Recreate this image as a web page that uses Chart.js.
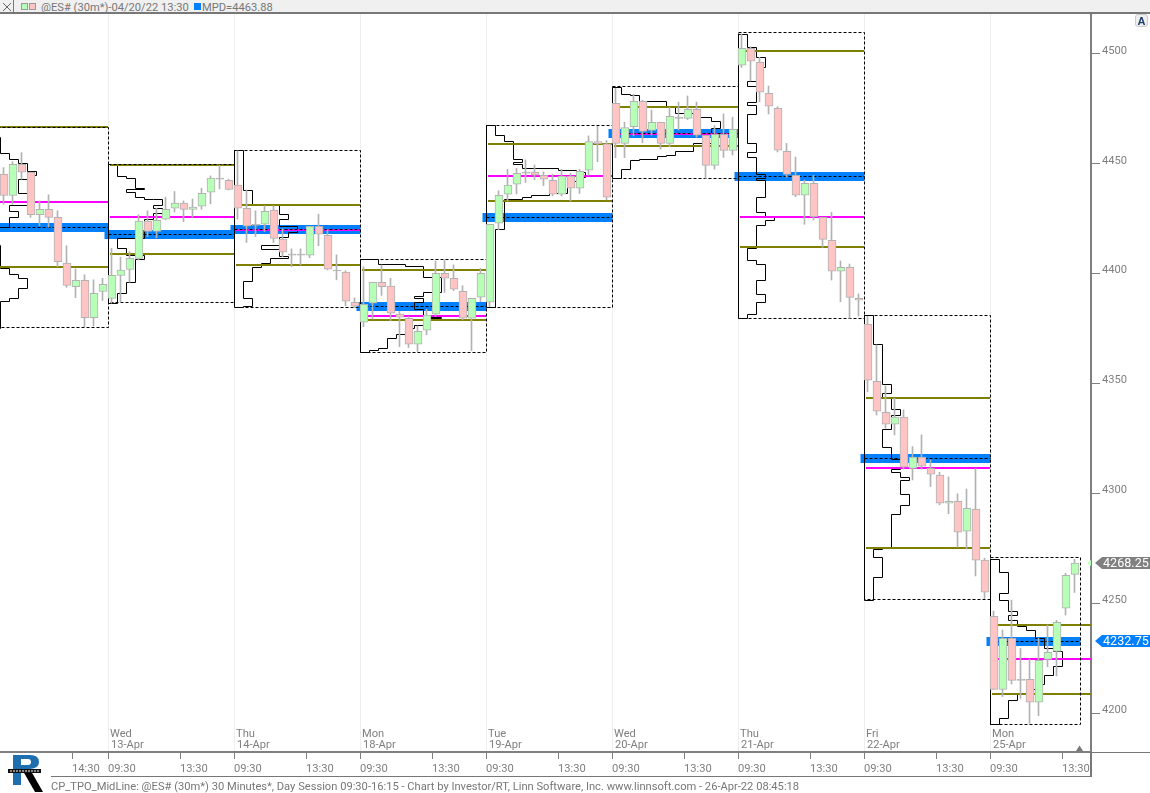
<!DOCTYPE html>
<html>
<head>
<meta charset="utf-8">
<style>
html,body{margin:0;padding:0;background:#fff;overflow:hidden}
#wrap{position:relative;width:1150px;height:793px;overflow:hidden;font-family:"Roboto",sans-serif;color:#777}
canvas{position:absolute;left:0;top:0}
.abs{position:absolute}
#head{left:0;top:0;width:1150px;height:12px;background:#f0f0f0;border-bottom:2px solid #777}
.t{position:absolute;white-space:nowrap;font-size:11.15px;line-height:13px;color:#777}
</style>
</head>
<body>
<div id="wrap">
<canvas id="c" width="1150" height="793"></canvas>
<div id="head" class="abs"></div>
<div class="abs" style="left:0;top:0;width:14px;height:13px;border-right:1px solid #777;box-sizing:border-box"></div>
<svg class="abs" style="left:2px;top:2px" width="10" height="10"><path d="M1 1L9 9M9 1L1 9" stroke="#666" stroke-width="1" fill="none"/></svg>
<div class="abs" style="left:21px;top:3px;width:5px;height:5px;background:#b8ffb8;border:1px solid #999"></div>
<div class="abs" style="left:29px;top:3px;width:5px;height:5px;background:#ffc4c4;border:1px solid #999"></div>
<div class="t" style="left:41px;top:1px">@ES# (30m*)-04/20/22 13:30</div>
<div class="abs" style="left:194px;top:3px;width:7px;height:7px;background:#0080ff"></div>
<div class="t" style="left:202px;top:1px">MPD=4463.88</div>
<div class="abs" style="left:1135px;top:14px;width:13px;height:13px;background:#efefef;border:1px solid #ccc;border-radius:3px;box-sizing:border-box;font:bold 11px/12px 'Liberation Sans',sans-serif;text-align:center;color:#1c3d6e">A</div>
<div class="abs" style="left:1091px;top:752px;width:59px;height:1px;background:#777"></div>
<div class="abs" style="left:1090px;top:752px;width:2px;height:25px;background:#777"></div>
<div class="abs" style="left:51px;top:776px;width:1041px;height:1px;background:#777"></div>
<svg class="abs" style="left:1075px;top:745px" width="10" height="7"><path d="M1 6L4.5 0.5L8 6Z" fill="#777"/></svg>
<svg class="abs" style="left:6px;top:754px" width="40" height="39">
  <path d="M7 1H24Q33 1 33 8Q33 14 24 15L30 15L16 17H15V31H7Z" fill="#1f6fae"/>
  <path d="M15 5H22Q25 5 25 8Q25 11 22 11H15Z" fill="#fff"/>
  <path d="M17 17H25L37 38H29Z" fill="#000"/>
  <rect x="2" y="15" width="33" height="4" fill="#111"/>
  <path d="M4 17H33" stroke="#fff" stroke-width="1" stroke-dasharray="2 1" fill="none"/>
</svg>
<div class="t" id="foot" style="left:51px;top:780px">CP_TPO_MidLine: @ES# (30m*) 30 Minutes*, Day Session 09:30-16:15 - Chart by Investor/RT, Linn Software, Inc. www.linnsoft.com - 26-Apr-22 08:45:18</div>
</div>
<script src="https://cdn.jsdelivr.net/npm/chart.js@4/dist/chart.umd.min.js"></script>
<script>
// ---- price and time ticks
const priceTicks = [4200,4250,4300,4350,4400,4450,4500];
const timeTickSlots  = [-4,0,8,14,22,28,36,42,50,56,64,70,78,84,92,98,106];
const timeTickLabels = ["14:30","09:30","13:30","09:30","13:30","09:30","13:30","09:30","13:30","09:30","13:30","09:30","13:30","09:30","13:30","09:30","13:30"];

// ---- candles (30 minute bars, first bar sits in slot -12)
const opens = [
 4445.3,4435.6,4449.8,4446.2,4426.9,4429.3,4425.7,4404.8,4394.1,4397,4380,4391.9,
 4388.7,4399.2,4401.9,4407,4423.9,4419.2,4424.8,4429.8,4432.1,4429.3,4430.7,4437.1,4443.5,4442.5,
 4440.3,4429.8,4422.5,4422.5,4428.9,4415.7,4408.9,4408.9,4408.4,4421.6,4417.5,4401.6,4400.7,4387,
 4377.9,4386.6,4396.1,4394.3,4381.6,4379.7,4367.9,4374.3,4381.6,4400.2,4397.9,4392,4379.7,4389.3,
 4387,4423,4436.2,4440.7,4446.2,4446.2,4444.8,4442.5,4436.2,4444.4,4438.9,4447.1,4460.1,4459.1,
 4477.5,4459.3,4466.9,4478.4,4465.2,4468.9,4459.3,4471.2,4470.7,4474.8,4463,4449.3,4463.4,4456.1,
 4494.9,4502.6,4496.2,4482.1,4475.3,4455.7,4444.8,4435.7,4441.1,4425.7,4415.2,4401.1,4402.9,4388.8,
 4377.1,4351,4336.9,4331.5,4334.7,4311.4,4316.5,4311.4,4308.3,4295.5,4296.4,4282.8,4292.8,4269.6,
 4244,4210.8,4234,4215.3,4215.3,4204.9,4224.4,4228.1,4247.7,4263.1];
const highs = [
 4448.3,4451,4455.1,4446.2,4433.1,4435.9,4428.6,4412.7,4402.2,4399.5,4397.2,4397.9,
 4411.6,4407.5,4410.1,4426.8,4428.6,4429.8,4434.8,4437.4,4433.1,4434,4438.9,4444.5,4449.5,4443,
 4455.9,4438.1,4428.6,4430.9,4430.9,4420.4,4411.3,4411.3,4421.6,4427.1,4420,4408.6,4401.3,4389,
 4403.2,4396.1,4404,4397.9,4382.8,4380.5,4376.2,4383.8,4405.8,4406.3,4404,4394.5,4388.8,4402.5,
 4422.5,4437.7,4447.5,4448,4451.8,4449.5,4446.3,4445.3,4447.5,4445.7,4447.5,4462.7,4467,4460.6,
 4484.4,4468.9,4481.6,4479,4474.5,4468.9,4475.7,4478.1,4480.9,4478.1,4463,4467.4,4472.7,4471.2,
 4509.1,4503.3,4498.5,4485.4,4476,4459.3,4453.1,4442.6,4444.8,4425.7,4427.9,4405.8,4404.4,4390.8,
 4380.5,4367.6,4348.9,4343.3,4338,4321.3,4326.6,4315.2,4309.6,4307.5,4299.8,4302,4311.4,4270.5,
 4246.4,4237.8,4251.4,4229.4,4224.6,4234,4240.1,4242.2,4263.6,4270];
const lows = [
 4431.6,4431.6,4443,4425.6,4421.8,4421.1,4403.2,4393.8,4389.1,4375.9,4376.2,4387.8,
 4386.6,4387.2,4396.1,4406.3,4416.9,4416.3,4424.5,4428.1,4423.7,4425.7,4429.3,4431.8,4438.6,4438.1,
 4424.8,4414.2,4416.9,4419.2,4414.2,4407.8,4403.2,4404,4407.3,4412.7,4401.7,4397.2,4385.4,4384.7,
 4375.9,4379.4,4390.1,4378.5,4366.8,4366.4,4364.6,4372.2,4380.5,4391.4,4392.3,4379,4365,4387.3,
 4385,4420,4433.1,4436.3,4441.5,4442.7,4440.1,4435.4,4435.4,4433.1,4436.5,4444.8,4451,4433.6,
 4452.8,4452.8,4462.7,4459.6,4463.1,4456.7,4457.8,4465.4,4470.2,4462.1,4443.4,4447.6,4452.9,4454,
 4493.9,4487.7,4478.2,4472.7,4455.4,4443.9,4435,4422.5,4424.4,4412,4397.1,4387.2,4379.7,4380.7,
 4346.2,4335.7,4329.6,4326.6,4311,4306.1,4311,4303.1,4294.8,4290.7,4275.5,4274.7,4262.4,4252.1,
 4210.8,4207.5,4213.2,4206.7,4195.3,4198.8,4221.1,4216.9,4244.6,4254.9];
const closes = [
 4435.6,4449.8,4446.2,4426.9,4429.3,4425.6,4405.5,4394.6,4397,4380,4391.1,4395.2,
 4399.3,4401.6,4407,4423.9,4419.2,4424.3,4429.3,4432.1,4429.3,4430.3,4436.6,4443.5,4443,4438.4,
 4429.8,4421.6,4422,4428.4,4416.1,4409.8,4408.4,4408.4,4421.6,4418,4402,4401.2,4387.5,4385.2,
 4386.1,4396.1,4394.1,4382,4380.2,4367.9,4373.8,4381.1,4400.2,4397.9,4392.9,4379.7,4388.8,4400.2,
 4422.5,4435.7,4440.3,4445.7,4445.8,4444.8,4443,4436.2,4444.4,4438.9,4446.6,4460.1,4459.2,4434.8,
 4459.3,4466.5,4478.4,4464.8,4468.9,4459.3,4471.6,4470.7,4474.8,4463,4449.3,4463.4,4456.1,4465.7,
 4502.6,4496.7,4482.6,4476.2,4456.2,4445.2,4435.7,4441.1,4425.9,4415.6,4401.1,4402.9,4389.2,4387.9,
 4351.5,4337.4,4331.5,4334.7,4311.9,4316.5,4312.4,4308.7,4295.5,4296.4,4282.3,4293.2,4269.6,4255,
 4210.8,4234,4214.9,4214.9,4204.9,4224,4227.6,4241.3,4262.7,4268.25];

// ---- sessions (12-Apr to 25-Apr)
const sessionDays  = ["","Wed","Thu","Mon","Tue","Wed","Thu","Fri","Mon"];
const sessionDates = ["","13-Apr","14-Apr","18-Apr","19-Apr","20-Apr","21-Apr","22-Apr","25-Apr"];
const sessionStart = [-14,0,14,28,42,56,70,84,98];
const sessionEnd   = [0,14,28,42,56,70,84,98,108];
const sessionHigh  = [4466.75,4449.6,4456.1,4406.5,4467.5,4485,4509.6,4381,4270.6];
const sessionLow   = [4375.3,4386.7,4384.8,4364.3,4384.8,4443.1,4379.8,4251.5,4195];
const valueHigh    = [4466.9,4449.6,4431.3,4401.7,4459,4475.9,4501.5,4343.4,4240.2];
const valueLow     = [4403.2,4409,4404,4378.9,4433.2,4458.1,4412.3,4275.1,4208.7];
const midLine      = [4432.6,4425.8,4419.8,4380.7,4444.5,4463.6,4425.8,4311.5,4224.7];
const pocLine      = [4421.1,4417.8,4420,4385,4425.7,4463.88,4444.3,4315.9,4232.75];

// ---- TPO profiles: price where each step begins, and the TPO count from there down
const profPrices0 = [4467,4462.1,4454.8,4451.8,4450,4446.5,4444.7,4442.7,4436.3,4431,4428.3,4425.6,4421.1,4412.7,4402.2,4399.5,4397.6,4393.4,4388.8,4387.3,4375.2];
const profCounts0 = [1,2,3,4,5,6,5,4,5,3,4,3,1,2,3,4,5,4,3,2];
const profPrices1 = [4449.7,4444.2,4443.3,4438.9,4438.3,4437.1,4434.8,4433.9,4433.6,4431.2,4429.6,4427.5,4424.8,4416.1,4411.6,4408.1,4406.3,4396.1,4391.1,4386.6];
const profCounts1 = [1,2,3,4,2,3,4,5,6,5,6,5,4,1,2,4,3,2,1];
const profPrices2 = [4456.2,4437.8,4431.3,4427.1,4424.8,4421.5,4418.9,4416.6,4412.7,4411.1,4407.8,4407,4404.5,4402.8,4396.4,4388.8,4385,4384.7];
const profCounts2 = [1,2,5,6,5,7,6,5,3,5,6,4,3,2,1,2,1];
const profPrices3 = [4406.3,4404,4403.2,4398.4,4391.6,4389.6,4388.5,4387,4383.5,4380.2,4379.6,4376.2,4374.9,4372.2,4370.3,4366.1,4364.9,4364.3];
const profCounts3 = [2,5,7,9,7,6,7,6,7,9,7,6,5,4,3,2,1];
const profPrices4 = [4467.4,4462.7,4460.1,4451.8,4450.7,4449.5,4447.7,4446.9,4446.2,4443.9,4441.9,4436.3,4435.4,4434.7,4433.6,4419.9,4384.7];
const profCounts4 = [1,2,3,4,3,4,8,10,11,10,9,7,5,4,2,1];
const profPrices5 = [4484.8,4481.6,4481,4478.3,4476,4473,4471.2,4469.2,4466.2,4459.3,4455.5,4454,4453.5,4452,4451.7,4447.5,4443.4];
const profCounts5 = [1,2,3,6,7,9,11,12,11,9,7,6,5,3,2,1];
const profPrices6 = [4509.1,4503,4498.5,4493.9,4487.7,4485.1,4478,4476.5,4472.5,4459.3,4455.1,4453,4445.2,4443.2,4442.3,4434.6,4427.9,4425.7,4424,4421.9,4411.6,4406.2,4404.3,4396.7,4390.6,4387,4381.5,4379.7];
const profCounts6 = [1,2,3,2,1,2,1,2,1,2,1,2,3,2,3,2,3,4,3,2,1,2,3,2,3,2,1];
const profPrices7 = [4380.8,4367.9,4349.4,4345.6,4343,4338,4335.4,4329.2,4321,4315.2,4310.7,4309.6,4307.3,4306,4299.6,4294.6,4290.5,4275.2,4274.3,4270.9,4261.8,4251.4];
const profCounts7 = [1,2,3,2,3,4,3,2,3,4,3,4,5,4,5,4,3,2,1,2,1];
const profPrices8 = [4270.1,4263.9,4254.5,4251.4,4246.4,4244.6,4242.3,4239.6,4237.8,4234,4229.4,4227.9,4221.1,4216.9,4212.8,4210.5,4209,4205.6,4197.6,4195];
const profCounts8 = [1,2,1,2,3,2,3,4,5,6,7,8,7,6,5,4,3,2,1];
const profilePrices = [profPrices0,profPrices1,profPrices2,profPrices3,profPrices4,profPrices5,profPrices6,profPrices7,profPrices8];
const profileCounts = [profCounts0,profCounts1,profCounts2,profCounts3,profCounts4,profCounts5,profCounts6,profCounts7,profCounts8];

const lastPrice = 4268.25;
const pocPrice  = 4232.75;

// ---- axis window and styling
const X_MIN=-12, X_MAX=109.2222, Y_MIN=4182.27, Y_MAX=4518.66;
const UP='#b8ffb8', DOWN='#ffc4c4', EDGE='#b2b2b2', OLIVE='#808000', MAG='#ff00ff', BLUE='#0080ff';
const GRAY='#7f7f7f';
const bodyOff=4/9, wickOff=3.5/9;
const AXIS_FONT={family:'Roboto',size:11.15};

function seg(points,color,width,order,extra){
  return Object.assign({type:'line',data:points,borderColor:color,borderWidth:width,pointRadius:0,tension:0,fill:false,order:order,borderCapStyle:'butt'},extra||{});
}
const datasets=[];
sessionStart.forEach((s,i)=>{
  const e=sessionEnd[i];
  const lineEnd = i===sessionStart.length-1 ? X_MAX : e;
  datasets.push(seg([{x:s-0.44,y:pocLine[i]},{x:e,y:pocLine[i]}],BLUE,9,60));
  const P=profilePrices[i],C=profileCounts[i],pts=[{x:s,y:P[0]}];
  C.forEach((c,k)=>pts.push({x:s+c,y:P[k]}));
  pts.push({x:s,y:P[P.length-1]});
  pts.push({x:s,y:P[0]});
  datasets.push(seg(pts,'#000',1,50,{stepped:'after'}));
  datasets.push(seg([{x:s+0.2,y:valueHigh[i]},{x:lineEnd,y:valueHigh[i]}],OLIVE,2,45));
  datasets.push(seg([{x:s+0.2,y:valueLow[i]},{x:lineEnd,y:valueLow[i]}],OLIVE,2,45));
  datasets.push(seg([{x:s+0.2,y:midLine[i]},{x:lineEnd,y:midLine[i]}],MAG,2,44));
  datasets.push(seg([{x:s,y:pocLine[i]},{x:e,y:pocLine[i]}],'#000',1,42,{borderDash:[3,2]}));
  datasets.push(seg([{x:s,y:sessionHigh[i]},{x:e,y:sessionHigh[i]},{x:e,y:sessionLow[i]},{x:s,y:sessionLow[i]},{x:s,y:sessionHigh[i]}],'#000',1,40,{borderDash:[3,2]}));
});
const slots=opens.map((_,i)=>i-12);
datasets.push({type:'bar',grouped:false,order:20,barThickness:1,borderWidth:0,backgroundColor:EDGE,
  data:slots.map((s,i)=>({x:s+wickOff,y:[lows[i],highs[i]]}))});
datasets.push({type:'bar',grouped:false,order:10,barThickness:8,borderWidth:1,borderSkipped:false,borderColor:EDGE,
  backgroundColor:slots.map((s,i)=>Math.abs(closes[i]-opens[i])<=0.6?EDGE:(closes[i]>opens[i]?UP:DOWN)),
  data:slots.map((s,i)=>({x:s+bodyOff,y:[opens[i],closes[i]]}))});

// keep the thin lines crisp: settle each scale-derived point on the device pixel grid
const crisp={
  id:'crisp',
  afterDatasetsUpdate(chart){
    chart.data.datasets.forEach((d,i)=>{
      if(d.type!=='line')return;
      const odd=d.borderWidth%2===1;
      chart.getDatasetMeta(i).data.forEach(p=>{
        p.x=Math.round(p.x)+(odd?0.5:0);
        p.y=odd?Math.floor(p.y)+0.5:Math.round(p.y);
      });
    });
  }
};

const annotate={
  id:'annotate',
  afterDraw(chart){
    const c=chart.ctx,x=chart.scales.x,y=chart.scales.y;
    c.save();
    c.font='11.15px Roboto';c.fillStyle=GRAY;c.textBaseline='middle';c.textAlign='left';
    sessionStart.forEach((s,i)=>{
      if(!sessionDays[i])return;
      const px=x.getPixelForValue(s);
      c.fillText(sessionDays[i],px+2,734);
      c.fillText(sessionDates[i],px+3,745.5);
    });
    function tag(v,bg,label){
      const py=Math.round(y.getPixelForValue(v));
      c.fillStyle=bg;c.beginPath();
      c.moveTo(1095,py);c.lineTo(1102,py-6);c.lineTo(1150,py-6);c.lineTo(1150,py+6);c.lineTo(1102,py+6);c.closePath();c.fill();
      c.fillStyle='#fff';c.font='12.6px Roboto';c.textAlign='left';c.textBaseline='middle';
      c.fillText(label,1103,py+0.5);
    }
    tag(lastPrice,'#808080',lastPrice.toFixed(2));
    tag(pocPrice,BLUE,pocPrice.toFixed(2));
    const py=y.getPixelForValue(lastPrice);
    c.fillStyle=UP;c.beginPath();c.moveTo(1087,py);c.lineTo(1091,py-3);c.lineTo(1091,py+3);c.closePath();c.fill();
    c.restore();
  }
};

new Chart(document.getElementById('c'),{
  type:'bar',
  data:{datasets},
  plugins:[crisp,annotate],
  options:{
    responsive:false,animation:false,devicePixelRatio:1,
    layout:{autoPadding:false,padding:{top:13,left:0,right:0,bottom:0}},
    plugins:{legend:{display:false},tooltip:{enabled:false},title:{display:false}},
    events:[],
    scales:{
      x:{type:'linear',position:'bottom',offset:false,min:X_MIN,max:X_MAX,
        grid:{offset:false,tickLength:7,tickColor:GRAY,
          color:ctx=>(ctx.tick&&timeTickLabels[timeTickSlots.indexOf(ctx.tick.value)]==='09:30')?'#eeeeee':'rgba(0,0,0,0)'},
        border:{display:true,color:GRAY,width:2},
        ticks:{autoSkip:false,maxRotation:0,minRotation:0,align:'start',padding:4,color:GRAY,font:AXIS_FONT,
          callback:v=>{const k=timeTickSlots.indexOf(v);return k<0?'':timeTickLabels[k];}},
        afterBuildTicks(s){s.ticks=timeTickSlots.map(v=>({value:v}));},
        afterFit(s){s.height=41;}
      },
      y:{type:'linear',position:'right',min:Y_MIN,max:Y_MAX,
        grid:{drawOnChartArea:false,drawTicks:true,tickLength:9,tickColor:GRAY},
        border:{display:true,color:GRAY,width:2},
        ticks:{autoSkip:false,padding:2,labelOffset:-3,color:GRAY,font:AXIS_FONT,callback:v=>String(v)},
        afterBuildTicks(s){s.ticks=priceTicks.map(v=>({value:v}));},
        afterFit(s){s.width=59;}
      }
    }
  }
});
</script>
</body>
</html>
